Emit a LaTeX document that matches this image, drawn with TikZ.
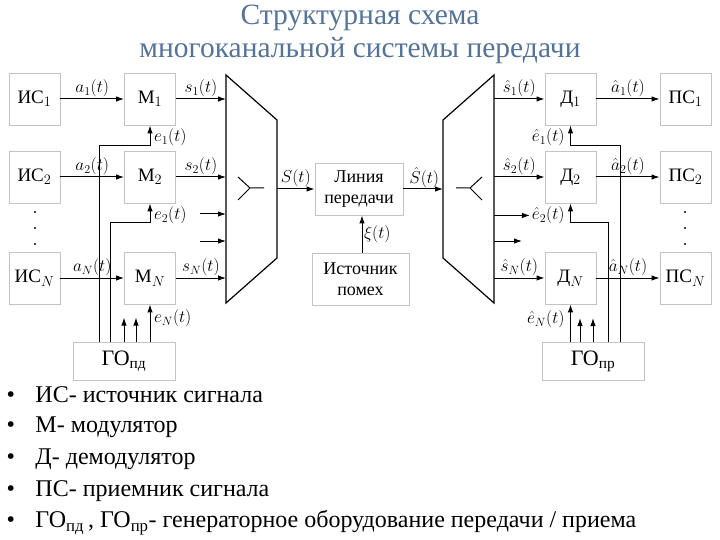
\documentclass[tikz,border=0pt]{standalone}
\usepackage{amsmath}
\usepackage{fontspec}
\setmainfont{Liberation Serif}
\usetikzlibrary{arrows.meta}
\definecolor{titleblue}{RGB}{85,115,150}
\definecolor{boxgray}{RGB}{195,195,195}

\begin{document}
\begin{tikzpicture}[x=1pt, y=-1pt, line width=1pt, >={Latex[length=8pt,width=5.5pt]},
    blok/.style={draw=boxgray, line width=0.9pt, minimum width=51pt, minimum height=52pt,
      inner sep=0pt, font=\fontsize{19}{22}\selectfont},
    wideblok/.style={blok, minimum width=88pt, align=center, font=\fontsize{18}{21}\selectfont},
    genblok/.style={blok, minimum width=102pt, minimum height=38pt, font=\fontsize{22}{24}\selectfont},
    lbl/.style={font=\fontsize{17}{20}\selectfont, inner sep=1.5pt},
    legend/.style={anchor=west, inner sep=0pt, font=\fontsize{24}{26}\selectfont}]
  \useasboundingbox (0,0) rectangle (720,540);

  % Title
  \node[text=titleblue, align=center, font=\fontsize{29.5}{33}\selectfont] (title) at (360,34)
    {Структурная схема\\многоканальной системы передачи};

  % Transmitting side
  \node[blok] (is1) at (34.5,99) {ИС$_1$};
  \node[blok] (is2) at (34.5,177) {ИС$_2$};
  \node[blok] (isN) at (34.5,278) {ИС$_N$};
  \node[blok] (m1) at (150,99) {М$_1$};
  \node[blok] (m2) at (150,177) {М$_2$};
  \node[blok] (mN) at (150,278) {М$_N$};
  \node[genblok] (gopd) at (124,361) {ГО\textsubscript{пд}};

  % Multiplexer
  \draw[line width=1.2pt] (226,75) -- (277,120) -- (277,258) -- (226,303) -- cycle;
  \coordinate (muxL) at (226,0);
  \coordinate (muxR) at (277,189);
  \draw (238,177) -- (250,188) -- (238,200) (250,188) -- (264,188);

  % Line and noise
  \node[wideblok] (line) at (359,189) {Линия\\передачи};
  \node[wideblok, minimum width=97pt] (noise) at (360.5,279) {Источник\\помех};

  % Demultiplexer
  \draw[line width=1.2pt] (494,75) -- (443,120) -- (443,258) -- (494,303) -- cycle;
  \coordinate (dmxL) at (443,189);
  \coordinate (dmxR) at (494,0);
  \draw (482,177) -- (470,188) -- (482,200) (470,188) -- (456,188);

  % Receiving side
  \node[blok] (d1) at (570.5,99) {Д$_1$};
  \node[blok] (d2) at (570.5,177) {Д$_2$};
  \node[blok] (dN) at (570.5,278) {Д$_N$};
  \node[blok] (ps1) at (685.5,99) {ПС$_1$};
  \node[blok] (ps2) at (685.5,177) {ПС$_2$};
  \node[blok] (psN) at (685.5,278) {ПС$_N$};
  \node[genblok] (gopr) at (593,361.5) {ГО\textsubscript{пр}};

  % Dots
  \foreach \yy in {212,228,244} {
    \fill (35,\yy) circle (1.1pt);
    \fill (685,\yy) circle (1.1pt);
  }

  % Control lines of the transmitting generator
  \draw[->] ([xshift=-25pt]gopd.north) -- ++(0,-196) -| (m1.south);
  \draw[->] ([xshift=-14pt]gopd.north) -- ++(0,-119) -| (m2.south);
  \draw[->] (gopd.north) -- ++(0,-24);
  \draw[->] ([xshift=12pt]gopd.north) -- ++(0,-24);
  \draw[->] (gopd.north -| mN.south) -- (mN.south);

  % Signal arrows, transmitting side
  \draw[->] (is1) -- node[lbl, above] {$a_1(t)$} (m1);
  \draw[->] (is2) -- node[lbl, above] {$a_2(t)$} (m2);
  \draw[->] (isN) -- node[lbl, above] {$a_N(t)$} (mN);
  \draw[->] (m1) -- node[lbl, above] {$s_1(t)$} (m1 -| muxL);
  \draw[->] (m2) -- node[lbl, above] {$s_2(t)$} (m2 -| muxL);
  \draw[->] (mN) -- node[lbl, above] {$s_N(t)$} (mN -| muxL);
  \draw[->] (200,214) -- (muxL |- 0,214);
  \draw[->] (200,241) -- (muxL |- 0,241);
  \node[lbl, anchor=west] (e1) at ([xshift=2pt,yshift=-12pt]m1.south) {$e_1(t)$};
  \node[lbl, anchor=west] (e2) at ([xshift=2pt,yshift=-12pt]m2.south) {$e_2(t)$};
  \node[lbl, anchor=west] (eN) at ([xshift=2pt,yshift=-14pt]mN.south) {$e_N(t)$};

  % Channel
  \draw[->] (muxR) -- node[lbl, above] {$S(t)$} (line.west);
  \draw[->] (line.east) -- node[lbl, above, inner sep=0.5pt, xshift=1pt] {$\hat{S}(t)$} (dmxL);
  \draw[->] (noise.north -| 362,0) -- node[lbl, right] {$\xi(t)$} (line.south -| 362,0);

  % Signal arrows, receiving side
  \draw[->] (d1 -| dmxR) -- node[lbl, above] {$\hat{s}_1(t)$} (d1);
  \draw[->] (d2 -| dmxR) -- node[lbl, above] {$\hat{s}_2(t)$} (d2);
  \draw[->] (dN -| dmxR) -- node[lbl, above] {$\hat{s}_N(t)$} (dN);
  \draw[->] (d1) -- node[lbl, above] {$\hat{a}_1(t)$} (ps1);
  \draw[->] (d2) -- node[lbl, above] {$\hat{a}_2(t)$} (ps2);
  \draw[->] (dN) -- node[lbl, above] {$\hat{a}_N(t)$} (psN);
  \node[lbl, anchor=east] (he1) at ([xshift=-4pt,yshift=-12pt]d1.south) {$\hat{e}_1(t)$};
  \node[lbl, anchor=east] (he2) at ([xshift=-4pt,yshift=-12pt]d2.south) {$\hat{e}_2(t)$};
  \node[lbl, anchor=east] (heN) at ([xshift=-4pt,yshift=-15pt]dN.south) {$\hat{e}_N(t)$};
  \draw[->] (he2 -| dmxR) -- (he2.west);
  \draw[->] (dmxR |- 0,241) -- ++(28,0);

  % Control lines of the receiving generator
  \draw[->] ([xshift=27pt]gopr.north) -- ++(0,-197) -| (d1.south);
  \draw[->] ([xshift=15pt]gopr.north) -- ++(0,-120) -| (d2.south);
  \draw[->] (gopr.north -| dN.south) -- (dN.south);
  \draw[->] ([xshift=-13pt]gopr.north) -- ++(0,-24);
  \draw[->] (gopr.north) -- ++(0,-24);

  % Legend
  \foreach \txt [count=\i] in {ИС- источник сигнала, М- модулятор, Д- демодулятор,
      ПС- приемник сигнала,
      {ГО\textsubscript{пд}\,, ГО\textsubscript{пр}- генераторное оборудование передачи / приема}}
    \node[legend] (leg\i) at (6,{395+32*(\i-1)}) {\makebox[29pt][l]{\textbullet}\txt};
\end{tikzpicture}
\end{document}
